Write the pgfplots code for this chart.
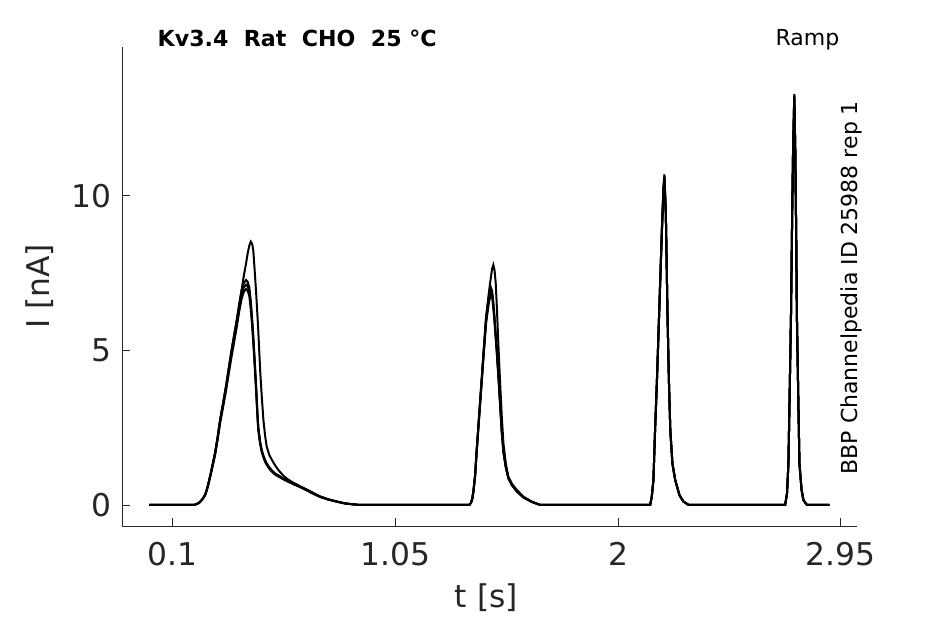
\documentclass[border=0pt]{standalone}
\usepackage{pgfplots}
\pgfplotsset{compat=1.18}
\usepackage{pgfplotstable}
\usepackage{fontspec}
\setmainfont{DejaVu Sans}
\definecolor{axgray}{RGB}{38,38,38}

\pgfplotstableread{
t a b c d
0.000 0 0 0 0
0.100 0 0 0 0
0.190 0 0 0 0
0.205 0.04 0.04 0.04 0.04
0.215 0.09 0.09 0.09 0.08
0.225 0.17 0.17 0.17 0.16
0.232 0.25 0.25 0.25 0.24
0.240 0.36 0.36 0.35 0.35
0.250 0.62 0.62 0.61 0.60
0.260 0.95 0.95 0.93 0.91
0.270 1.30 1.30 1.27 1.25
0.281 1.70 1.70 1.67 1.63
0.292 2.22 2.22 2.18 2.13
0.302 2.75 2.75 2.70 2.64
0.315 3.30 3.30 3.23 3.17
0.327 3.83 3.83 3.75 3.68
0.338 4.37 4.37 4.28 4.20
0.349 4.91 4.91 4.81 4.71
0.361 5.45 5.45 5.34 5.23
0.373 5.95 5.99 5.87 5.75
0.384 6.45 6.53 6.40 6.27
0.394 6.96 6.95 6.81 6.67
0.403 7.40 7.18 7.04 6.89
0.413 7.82 7.28 7.13 6.99
0.420 8.15 7.22 7.08 6.93
0.427 8.40 7.03 6.89 6.75
0.433 8.52 6.60 6.47 6.34
0.439 8.45 6.02 5.90 5.78
0.444 8.22 5.45 5.34 5.23
0.450 7.55 4.65 4.56 4.46
0.456 6.85 3.83 3.75 3.68
0.461 6.20 3.05 2.99 2.93
0.465 5.65 2.53 2.48 2.43
0.473 4.37 2.05 2.01 1.97
0.480 3.50 1.78 1.74 1.71
0.487 2.75 1.60 1.57 1.54
0.494 2.25 1.46 1.43 1.40
0.501 1.89 1.35 1.32 1.30
0.512 1.62 1.22 1.20 1.17
0.523 1.46 1.12 1.10 1.08
0.537 1.28 1.02 1.00 0.98
0.551 1.13 0.96 0.94 0.92
0.572 0.95 0.86 0.84 0.83
0.593 0.82 0.78 0.76 0.75
0.615 0.72 0.70 0.69 0.67
0.643 0.61 0.60 0.59 0.58
0.672 0.50 0.49 0.48 0.47
0.700 0.39 0.38 0.37 0.36
0.729 0.28 0.27 0.26 0.26
0.765 0.18 0.18 0.18 0.17
0.800 0.11 0.11 0.11 0.11
0.835 0.05 0.05 0.05 0.05
0.871 0.02 0.02 0.02 0.02
0.900 0 0 0 0
1.100 0 0 0 0
1.365 0 0 0 0
1.372 0.06 0.06 0.06 0.06
1.378 0.20 0.20 0.20 0.19
1.383 0.45 0.45 0.44 0.43
1.390 0.95 0.95 0.93 0.92
1.397 1.78 1.78 1.75 1.73
1.407 2.86 2.86 2.82 2.78
1.417 3.94 3.94 3.88 3.83
1.427 5.02 5.02 4.95 4.88
1.437 6.09 6.05 5.96 5.88
1.447 6.75 6.63 6.54 6.45
1.452 7.05 6.85 6.75 6.66
1.458 7.40 7.03 6.93 6.83
1.463 7.65 6.92 6.82 6.72
1.468 7.77 6.55 6.46 6.37
1.473 7.60 6.09 6.00 5.92
1.478 7.20 5.55 5.47 5.40
1.483 6.40 5.02 4.95 4.88
1.490 5.10 4.20 4.14 4.08
1.497 3.94 3.30 3.25 3.21
1.504 2.86 2.40 2.37 2.33
1.511 2.00 1.75 1.73 1.70
1.521 1.35 1.25 1.23 1.22
1.532 0.92 0.88 0.87 0.86
1.548 0.68 0.65 0.64 0.63
1.568 0.49 0.45 0.44 0.44
1.596 0.27 0.25 0.25 0.24
1.632 0.11 0.10 0.10 0.10
1.668 0 0 0 0
1.900 0 0 0 0
2.137 0 0 0 0
2.144 0.27 0.27 0.27 0.27
2.151 0.81 0.81 0.81 0.80
2.158 2.43 2.43 2.42 2.40
2.166 4.05 4.05 4.03 4.00
2.173 5.66 5.66 5.63 5.60
2.180 7.28 7.28 7.24 7.20
2.187 8.90 8.90 8.85 8.80
2.194 10.35 10.25 10.20 10.15
2.198 10.70 10.62 10.55 10.50
2.204 9.44 9.44 9.40 9.35
2.211 6.20 6.20 6.17 6.14
2.217 4.05 4.05 4.03 4.01
2.223 2.43 2.43 2.42 2.41
2.232 1.35 1.35 1.34 1.34
2.244 0.81 0.81 0.80 0.80
2.262 0.32 0.32 0.32 0.32
2.279 0.11 0.11 0.11 0.11
2.301 0 0 0 0
2.500 0 0 0 0
2.713 0 0 0 0
2.721 0.38 0.38 0.38 0.38
2.727 1.35 1.35 1.34 1.34
2.732 3.50 3.50 3.48 3.46
2.738 6.20 6.20 6.17 6.14
2.743 9.44 9.44 9.40 9.35
2.747 11.60 11.60 11.55 11.50
2.752 13.30 13.25 13.20 13.15
2.756 11.60 11.60 11.55 11.50
2.760 8.90 8.90 8.86 8.82
2.763 6.20 6.20 6.17 6.14
2.769 3.50 3.50 3.48 3.46
2.774 1.35 1.35 1.34 1.34
2.783 0.49 0.49 0.49 0.49
2.791 0.16 0.16 0.16 0.16
2.806 0 0 0 0
2.902 0 0 0 0
}\datatable

\begin{document}
\begin{tikzpicture}
\begin{axis}[
  scale only axis, width=551.25pt, height=359.25pt,
  xmin=-0.1164, xmax=3.0196, ymin=-0.68, ymax=14.82,
  axis x line*=bottom, axis y line*=left,
  axis line style={axgray, line width=0.7pt},
  every tick/.style={axgray, line width=0.7pt},
  tick align=inside, major tick length=5.8pt,
  xtick={0.1,1.05,2,2.95}, xticklabels={0.1,1.05,2,2.95},
  ytick={0,5,10}, yticklabels={0,5,10},
  /pgf/number format/assume math mode=true,
  ticklabel style={font=\fontsize{23.5}{28}\selectfont, text=axgray},
  xticklabel style={yshift=-8.7pt},
  yticklabel style={xshift=-4.2pt},
  xlabel={t [s]}, ylabel={I [nA]},
  xlabel style={at={([yshift=-60.75pt,xshift=-2.25pt]axis description cs:0.5,0)}, anchor=base, font=\fontsize{23.5}{28}\selectfont, text=axgray},
  ylabel style={at={([xshift=-54pt]axis description cs:0,0.5)}, anchor=base, font=\fontsize{23.5}{28}\selectfont, text=axgray},
  clip=false,
]
\path ([xshift=-91.5pt,yshift=-73.5pt]axis description cs:0,0) rectangle ([xshift=66pt,yshift=35.25pt]axis description cs:1,1);
\addplot[black, line width=1.5pt] table[x=t,y=d]{\datatable};
\addplot[black, line width=1.5pt] table[x=t,y=c]{\datatable};
\addplot[black, line width=1.5pt] table[x=t,y=b]{\datatable};
\addplot[black, line width=1.5pt] table[x=t,y=a]{\datatable};
\node[anchor=base west, font=\fontsize{16.6}{20}\selectfont\bfseries] at ([xshift=23.25pt]axis description cs:0,1) {Kv3.4\ \ Rat\ \ CHO\ \ 25 °C};
\node[anchor=base east, font=\fontsize{16.5}{20}\selectfont] at ([xshift=-9.75pt,yshift=0.75pt]axis description cs:1,1) {Ramp};
\node[anchor=base west, rotate=90, font=\fontsize{16.5}{20}\selectfont] at ([yshift=35.25pt]axis description cs:1,0) {BBP Channelpedia ID 25988 rep 1};
\end{axis}
\end{tikzpicture}
\end{document}
